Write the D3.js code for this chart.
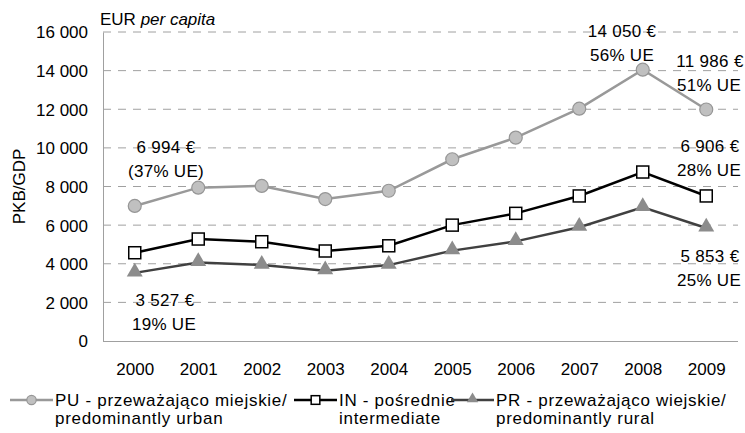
<!doctype html>
<html lang="pl">
<head>
  <meta charset="utf-8">
  <title>PKB/GDP per capita</title>
  <script src="https://d3js.org/d3.v7.min.js"></script>
  <style>
    body { margin: 0; background: #fff; }
    text { font-family: "Liberation Sans", Arial, sans-serif; font-size: 17px; fill: #000; }
    .legend text { letter-spacing: 0.7px; }
    .note { letter-spacing: 0.3px; }
  </style>
</head>
<body>
<div id="chart"></div>
<script>
  var years = ["2000","2001","2002","2003","2004","2005","2006","2007","2008","2009"];
  var urban = [6994, 7940, 8030, 7350, 7780, 9410, 10530, 12030, 14050, 11986];
  var intermediate = [4570, 5280, 5140, 4660, 4930, 6000, 6610, 7510, 8750, 7510];
  var rural = [3527, 4070, 3930, 3640, 3930, 4680, 5160, 5890, 6920, 5853];
  var yTicks = [0, 2000, 4000, 6000, 8000, 10000, 12000, 14000, 16000];

  var width = 745, height = 433;
  var margin = {top: 32, right: 7, bottom: 92, left: 103};

  var svg = d3.select("#chart").append("svg")
    .attr("width", width)
    .attr("height", height);

  var x = d3.scalePoint().domain(years)
    .range([margin.left, width - margin.right]).padding(0.5);
  var y = d3.scaleLinear().domain([0, 16000])
    .range([height - margin.bottom, margin.top]);

  var fmt = function(v) { return d3.format(",")(v).replace(/,/g, " "); };

  // dashed grid
  svg.append("g").selectAll("line")
    .data(yTicks.filter(function(d){ return d > 0; }))
    .enter().append("line")
    .attr("x1", margin.left).attr("x2", width - margin.right)
    .attr("y1", function(d){ return y(d); }).attr("y2", function(d){ return y(d); })
    .attr("stroke", "#a0a0a0").attr("stroke-width", 1)
    .attr("stroke-dasharray", "8,7");

  // y axis
  var yAxis = svg.append("g")
    .attr("transform", "translate(" + margin.left + ",0)")
    .call(d3.axisLeft(y).tickValues(yTicks).tickSize(0).tickPadding(15).tickFormat(fmt));
  yAxis.select(".domain").attr("stroke", "#a0a0a0");
  yAxis.selectAll("text").attr("dy", "0.35em");

  // x axis
  var xAxis = svg.append("g")
    .attr("transform", "translate(0," + y(0) + ")")
    .call(d3.axisBottom(x).tickSize(0).tickPadding(22));
  xAxis.select(".domain").attr("stroke", "#a0a0a0").attr("d", "M" + margin.left + ",0.5H" + (width - margin.right));

  svg.append("text")
    .attr("transform", "translate(25," + ((margin.top + y(0)) / 2) + ") rotate(-90)")
    .attr("text-anchor", "middle")
    .text("PKB/GDP");

  var unit = svg.append("text").attr("x", 100).attr("y", 25);
  unit.append("tspan").text("EUR ");
  unit.append("tspan").attr("font-style", "italic").text("per capita");

  var series = [
    {key: "PU", values: urban, line: "#999999", width: 2.5, marker: "circle"},
    {key: "IN", values: intermediate, line: "#000000", width: 2.5, marker: "square"},
    {key: "PR", values: rural, line: "#404040", width: 2.5, marker: "triangle"}
  ];

  var line = d3.line()
    .x(function(d, i){ return x(years[i]); })
    .y(function(d){ return y(d); });

  function drawMarker(g, type, cx, cy, k) {
    k = k || 1;
    if (type === "circle") {
      g.append("circle").attr("cx", cx).attr("cy", cy).attr("r", 6.5 * k)
        .attr("fill", "#c0c0c0").attr("stroke", "#969696").attr("stroke-width", 1.2);
    } else if (type === "square") {
      g.append("rect").attr("x", cx - 6 * k).attr("y", cy - 6 * k).attr("width", 12 * k).attr("height", 12 * k)
        .attr("fill", "#fff").attr("stroke", "#000").attr("stroke-width", 1.5);
    } else {
      g.append("path")
        .attr("d", d3.symbol().type(d3.symbolTriangle).size(110 * k * k)())
        .attr("transform", "translate(" + cx + "," + (cy - 1) + ")")
        .attr("fill", "#8c8c8c");
    }
  }

  series.forEach(function(s) {
    svg.append("path").datum(s.values)
      .attr("fill", "none").attr("stroke", s.line).attr("stroke-width", s.width)
      .attr("d", line);
    var g = svg.append("g");
    s.values.forEach(function(v, i){ drawMarker(g, s.marker, x(years[i]), y(v)); });
  });

  // annotations
  var notes = [
    {x: 166, y: 153, t: "6 994 €"}, {x: 166, y: 177, t: "(37% UE)"},
    {x: 622, y: 37, t: "14 050 €"}, {x: 622, y: 61, t: "56% UE"},
    {x: 710, y: 67, t: "11 986 €"}, {x: 709, y: 91, t: "51% UE"},
    {x: 710, y: 152, t: "6 906 €"}, {x: 709, y: 176, t: "28% UE"},
    {x: 710, y: 262, t: "5 853 €"}, {x: 709, y: 286, t: "25% UE"},
    {x: 165, y: 306, t: "3 527 €"}, {x: 164, y: 330, t: "19% UE"}
  ];
  svg.append("g").selectAll("text").data(notes).enter().append("text")
    .attr("class", "note")
    .attr("x", function(d){ return d.x; }).attr("y", function(d){ return d.y; })
    .attr("text-anchor", "middle")
    .text(function(d){ return d.t; });

  // legend
  var legend = [
    {x: 10, s: series[0], l1: "PU - przeważająco miejskie/", l2: "predominantly urban"},
    {x: 294, s: series[1], l1: "IN - pośrednie", l2: "intermediate"},
    {x: 451, s: series[2], l1: "PR - przeważająco wiejskie/", l2: "predominantly rural"}
  ];
  legend.forEach(function(d) {
    var g = svg.append("g").attr("class", "legend");
    g.append("line").attr("x1", d.x).attr("x2", d.x + 43).attr("y1", 400).attr("y2", 400)
      .attr("stroke", d.s.line).attr("stroke-width", d.s.width);
    drawMarker(g, d.s.marker, d.x + 21.5, 400, 0.72);
    g.append("text").attr("x", d.x + 45).attr("y", 406).text(d.l1);
    g.append("text").attr("x", d.x + 45).attr("y", 424).text(d.l2);
  });
</script>
</body>
</html>
